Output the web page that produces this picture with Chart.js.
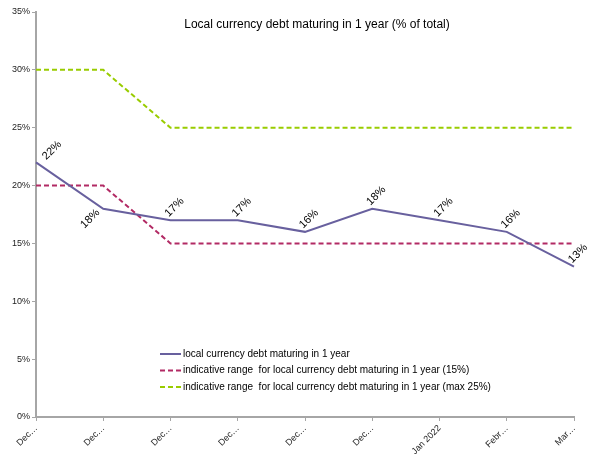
<!doctype html>
<html lang="en">
	<head>
		<title>Local currency debt maturing in 1 year</title>
		<script src="https://cdn.jsdelivr.net/npm/chart.js@4.4.0/dist/chart.umd.min.js"></script>
		<style>
			html, body { margin:0; padding:0; background:#fff; }
			#wrap { width:596px; height:457px; }
		</style>
	</head>
	<body>
		<div id="wrap"><canvas id="myChart"></canvas></div>
	</body>
	<script>
		// data
		var labels = ["Dec…", "Dec…", "Dec…", "Dec…", "Dec…", "Dec…", "Jan 2022", "Febr…", "Mar…"];
		var debt = [22, 18, 17, 17, 16, 18, 17, 16, 13];
		var rangeLow = [20, 20, 15, 15, 15, 15, 15, 15, 15];
		var rangeHigh = [30, 30, 25, 25, 25, 25, 25, 25, 25];
		var yTicks = [0, 5, 10, 15, 20, 25, 30, 35];

		var title = "Local currency debt maturing in 1 year (% of total)";
		var names = [
			"local currency debt maturing in 1 year",
			"indicative range  for local currency debt maturing in 1 year (15%)",
			"indicative range  for local currency debt maturing in 1 year (max 25%)"
		];

		var FONT = "'Liberation Sans', Arial, sans-serif";

		// title, value labels and legend drawn inside the plot area
		var extras = {
			id: "extras",
			afterDatasetsDraw: function(chart) {
				var ctx = chart.ctx;
				var area = chart.chartArea;
				ctx.save();

				ctx.fillStyle = "#000";
				ctx.font = "12px " + FONT;
				ctx.textAlign = "center";
				ctx.textBaseline = "middle";
				ctx.fillText(title, 317, 25);

				// value labels, rotated
				var meta = chart.getDatasetMeta(0);
				ctx.font = "11px " + FONT;
				meta.data.forEach(function(pt, i) {
					var dx = 4, dy = -13;
					if (i == 0) { dx = 16; dy = -12; }
					if (i == 1) { dx = -13; dy = 10; }
					ctx.save();
					ctx.translate(pt.x + dx, pt.y + dy);
					ctx.rotate(-Math.PI / 4);
					ctx.fillText(debt[i] + "%", 0, 0);
					ctx.restore();
				});

				// legend
				ctx.font = "10px " + FONT;
				ctx.textAlign = "left";
				var lx = area.left + 124, ly = area.top + 342;
				chart.data.datasets.forEach(function(ds, i) {
					var y = ly + i * 16.5;
					ctx.beginPath();
					ctx.strokeStyle = ds.borderColor;
					ctx.lineWidth = 2;
					ctx.setLineDash(ds.borderDash || []);
					ctx.moveTo(lx, y);
					ctx.lineTo(lx + 21, y);
					ctx.stroke();
					ctx.setLineDash([]);
					ctx.fillStyle = "#000";
					ctx.fillText(ds.label, lx + 23, y);
				});
				ctx.restore();
			}
		};

		var ctx = document.getElementById("myChart").getContext("2d");
		var myChart = new Chart(ctx, {
			type: "line",
			data: {
				labels: labels,
				datasets: [{
					label: names[0],
					data: debt,
					borderColor: "rgb(104, 96, 158)",
					borderWidth: 2,
					pointRadius: 0,
					tension: 0
				}, {
					label: names[1],
					data: rangeLow,
					borderColor: "rgb(178, 42, 100)",
					borderWidth: 2,
					borderDash: [5, 3],
					pointRadius: 0,
					tension: 0
				}, {
					label: names[2],
					data: rangeHigh,
					borderColor: "rgb(153, 204, 0)",
					borderWidth: 2,
					borderDash: [5, 3],
					pointRadius: 0,
					tension: 0
				}]
			},
			options: {
				responsive: true,
				maintainAspectRatio: false,
				animation: false,
				layout: { padding: { top: 12, right: 22 } },
				plugins: {
					legend: { display: false },
					tooltip: { enabled: false }
				},
				scales: {
					x: {
						offset: false,
						grid: { display: true, drawOnChartArea: false, drawTicks: true, tickLength: 4, color: "#a6a6a6" },
						border: { color: "#a6a6a6", width: 2 },
						ticks: { color: "#222", font: { size: 9, family: FONT }, maxRotation: 45, minRotation: 45, autoSkip: false, padding: 2 },
						afterFit: function(s) { s.height = 40; }
					},
					y: {
						min: 0,
						max: 35,
						afterBuildTicks: function(s) { s.ticks = yTicks.map(function(v) { return { value: v }; }); },
						grid: { display: true, drawOnChartArea: false, drawTicks: true, tickLength: 4, color: "#a6a6a6" },
						border: { color: "#a6a6a6", width: 2 },
						ticks: { color: "#222", font: { size: 9, family: FONT }, padding: 2, callback: function(v) { return v + "%"; } },
						afterFit: function(s) { s.width = 36; }
					}
				}
			},
			plugins: [extras]
		});
	</script>
</html>
